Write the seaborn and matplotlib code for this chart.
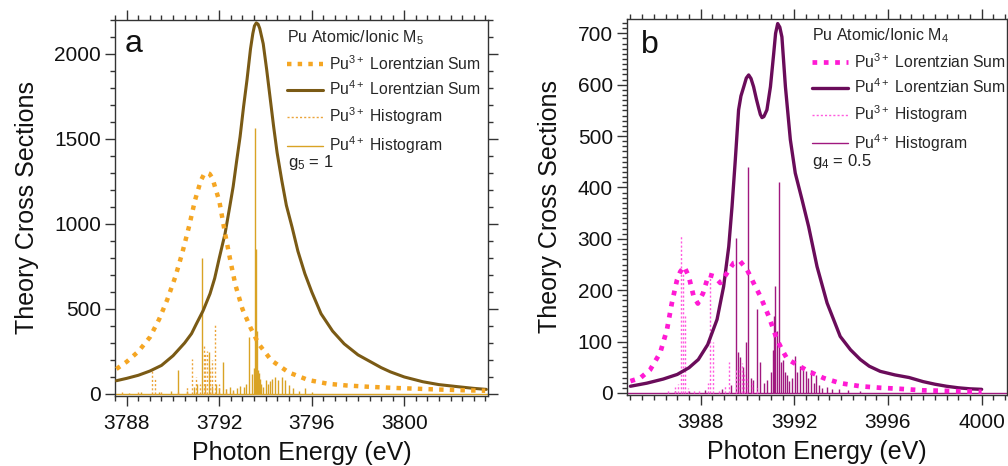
import matplotlib
matplotlib.use("Agg")
import matplotlib.pyplot as plt
import numpy as np
import pandas as pd
import seaborn as sns
from matplotlib.lines import Line2D
from matplotlib.ticker import MultipleLocator

# ---------------- data: panel a (M5) ----------------
a_e3 = [3787.55, 3788.0, 3788.5, 3789.0, 3789.4, 3789.75, 3790.1, 3790.4, 3790.7, 3790.95,
        3791.2, 3791.33, 3791.45, 3791.58, 3791.7, 3792.0, 3792.25, 3792.5, 3792.7, 3793.0,
        3793.35, 3793.7, 3794.25, 3795.0, 3795.85, 3796.7, 3797.5, 3798.5, 3799.5, 3800.5,
        3801.5, 3802.5, 3803.5]
a_v3 = [147, 190, 250, 334, 440, 555, 690, 830, 990, 1140,
        1255, 1290, 1302, 1295, 1270, 1135, 944, 770, 640, 500,
        390, 295, 198, 127, 82, 60, 50, 42, 36, 31,
        26, 22, 19]

a_e4 = [3787.55, 3788.0, 3788.5, 3789.0, 3789.5, 3790.0, 3790.5, 3790.8, 3791.0, 3791.3,
        3791.6, 3791.8, 3792.0, 3792.25, 3792.45, 3792.6, 3792.75, 3792.9, 3793.05, 3793.2,
        3793.35, 3793.45, 3793.52, 3793.6, 3793.68, 3793.75, 3793.9, 3794.05, 3794.2, 3794.35,
        3794.5, 3794.7, 3794.9, 3795.15, 3795.4, 3795.7, 3796.0, 3796.4, 3796.9, 3797.4,
        3798.0, 3798.4, 3799.0, 3799.4, 3800.0, 3800.8, 3801.5, 3802.3, 3803.0, 3803.55]
a_v4 = [78, 92, 110, 135, 168, 225, 300, 355, 410, 490,
        590, 680, 800, 944, 1100, 1220, 1370, 1514, 1690, 1850,
        2030, 2120, 2165, 2183, 2175, 2150, 2060, 1907, 1740, 1573,
        1420, 1258, 1110, 980, 840, 708, 600, 472, 370, 295,
        230, 200, 155, 130, 100, 72, 55, 43, 33, 27]

a_h3_e = [3787.8, 3788.5, 3789.11, 3789.22, 3789.5, 3790.2, 3790.6, 3790.84, 3791.0, 3791.15,
          3791.32, 3791.4, 3791.48, 3791.6, 3791.7, 3791.82, 3792.0, 3792.3, 3792.6]
a_h3_v = [10, 12, 137, 88, 15, 25, 40, 208, 100, 60,
          295, 240, 250, 150, 200, 413, 60, 30, 15]

a_h4_e = [3788.1, 3788.6, 3789.4, 3789.9, 3790.23, 3790.6, 3790.9, 3791.05, 3791.27, 3791.4,
          3791.57, 3791.7, 3791.85, 3792.0, 3792.15, 3792.3, 3792.45, 3792.6, 3792.75, 3792.9,
          3793.05, 3793.15, 3793.3, 3793.42, 3793.5, 3793.55, 3793.58, 3793.62, 3793.66, 3793.7,
          3793.75, 3793.82, 3793.9, 3794.0, 3794.1, 3794.2, 3794.27, 3794.4, 3794.55, 3794.7,
          3794.85, 3795.0, 3795.2, 3795.45, 3795.7, 3796.0]
a_h4_v = [8, 10, 12, 15, 143, 20, 40, 60, 800, 55,
          249, 45, 60, 35, 190, 30, 40, 25, 35, 45,
          40, 60, 335, 120, 150, 1563, 850, 373, 140, 125,
          90, 60, 40, 80, 60, 75, 90, 102, 82, 102,
          82, 53, 33, 20, 33, 10]

# ---------------- data: panel b (M4) ----------------
b_e3 = [3985.0, 3985.42, 3985.84, 3986.27, 3986.56, 3986.77, 3986.99, 3987.13, 3987.3, 3987.49,
        3987.7, 3987.88, 3988.1, 3988.34, 3988.58, 3988.84, 3989.12, 3989.41, 3989.69, 3989.98,
        3990.26, 3990.55, 3990.91, 3991.26, 3991.5, 3991.7, 3992.11, 3992.61, 3993.25, 3993.96,
        3994.82, 3995.67, 3996.5, 3997.5, 3998.5, 4000.0]
b_v3 = [23, 29, 45, 78, 123, 175, 220, 236, 246, 227,
        188, 174, 194, 230, 227, 214, 233, 253, 256, 240,
        214, 188, 149, 104, 82, 66, 55, 42, 29, 19,
        13, 10, 8, 5, 4, 2]

b_e4 = [3985.0, 3985.7, 3986.4, 3987.0, 3987.5, 3987.9, 3988.3, 3988.7, 3988.98, 3989.2,
        3989.34, 3989.48, 3989.62, 3989.72, 3989.84, 3989.95, 3990.05, 3990.15, 3990.26, 3990.38,
        3990.48, 3990.55, 3990.62, 3990.7, 3990.83, 3990.98, 3991.12, 3991.2, 3991.29, 3991.38,
        3991.47, 3991.62, 3991.83, 3992.04, 3992.33, 3992.61, 3992.97, 3993.4, 3993.96, 3994.4,
        3994.82, 3995.2, 3995.67, 3996.3, 3996.9, 3997.5, 3998.0, 3998.5, 3999.0, 3999.5,
        4000.0]
b_v4 = [13, 19, 27, 36, 49, 65, 94, 143, 207, 285,
        363, 454, 551, 578, 596, 613, 619, 612, 596, 572,
        554, 542, 536, 538, 551, 596, 661, 700, 719, 712,
        693, 596, 493, 428, 376, 324, 246, 175, 110, 84,
        65, 52, 42, 35, 30, 22, 17, 13, 10, 8,
        7]

b_h3_e = [3986.6, 3986.9, 3987.05, 3987.17, 3987.25, 3987.35, 3987.47, 3987.7, 3987.95, 3988.3,
          3988.4, 3988.54, 3988.8, 3989.05, 3989.22, 3989.5, 3989.65, 3989.75, 3989.85, 3990.0,
          3990.2, 3990.4]
b_h3_v = [5, 12, 18, 308, 234, 150, 10, 8, 5, 20,
          233, 100, 8, 15, 61, 45, 50, 59, 40, 30,
          20, 10]

b_h4_e = [3986.9, 3987.5, 3988.2, 3988.9, 3989.3, 3989.49, 3989.6, 3989.7, 3989.8, 3989.95,
          3990.03, 3990.15, 3990.25, 3990.42, 3990.55, 3990.7, 3990.85, 3991.0, 3991.1, 3991.14,
          3991.18, 3991.25, 3991.34, 3991.45, 3991.53, 3991.62, 3991.7, 3991.79, 3991.9, 3992.05,
          3992.12, 3992.24, 3992.36, 3992.49, 3992.6, 3992.7, 3992.82, 3992.92, 3993.05, 3993.17,
          3993.4, 3993.6, 3993.92, 3994.3, 3994.8]
b_h4_v = [3, 4, 5, 8, 15, 301, 80, 70, 50, 100,
          440, 30, 25, 163, 60, 20, 25, 40, 84, 150,
          209, 120, 410, 60, 65, 40, 35, 23, 30, 71,
          40, 52, 45, 43, 30, 45, 20, 35, 15, 10,
          12, 8, 8, 5, 4]

labels = ["Pu$^{3+}$ Lorentzian Sum", "Pu$^{4+}$ Lorentzian Sum",
          "Pu$^{3+}$ Histogram", "Pu$^{4+}$ Histogram"]

# ---------------- style ----------------
sns.set_theme(style="ticks")
plt.rcParams["font.family"] = ["Liberation Sans", "DejaVu Sans"]
plt.rcParams["mathtext.fontset"] = "custom"
plt.rcParams["mathtext.rm"] = "Liberation Sans"
plt.rcParams["mathtext.it"] = "Liberation Sans:italic"
plt.rcParams["mathtext.bf"] = "Liberation Sans:bold"
plt.rcParams["mathtext.sf"] = "Liberation Sans"
plt.rcParams["lines.dash_capstyle"] = "butt"

fig = plt.figure(figsize=(10.08, 4.66), dpi=100)
ax_a = fig.add_axes([0.1141, 0.1502, 0.3700, 0.8069])
ax_b = fig.add_axes([0.6217, 0.1524, 0.3770, 0.8069])

DOT = (0, (1, 1.4))
HDOT = (0, (1.5, 1.5))


def draw_panel(ax, e3, v3, e4, v4, h3e, h3v, h4e, h4v, c3, c4, ch3, ch4,
               lw3, lw4, xlim):
    # histogram baseline + sticks
    ax.plot(list(xlim), [0, 0], color=ch4, lw=1.0, zorder=1)
    ax.vlines(h4e, 0, h4v, colors=ch4, lw=1.0, zorder=2)
    ax.vlines(h3e, 0, h3v, colors=ch3, lw=1.0, linestyles=HDOT, zorder=2)
    # Lorentzian sums
    sns.lineplot(x=e4, y=v4, ax=ax, color=c4, lw=lw4, estimator=None, zorder=4)
    sns.lineplot(x=e3, y=v3, ax=ax, color=c3, lw=lw3, linestyle=DOT,
                 estimator=None, zorder=5)
    handles = [Line2D([], [], color=c3, lw=lw3, linestyle=DOT),
               Line2D([], [], color=c4, lw=lw4),
               Line2D([], [], color=ch3, lw=1.0, linestyle=HDOT),
               Line2D([], [], color=ch4, lw=1.0)]
    return handles


def style_axes(ax, xlim, ylim, xmaj, xmin, ymaj, ymin, right=True):
    ax.set_xlim(*xlim)
    ax.set_ylim(*ylim)
    ax.xaxis.set_major_locator(MultipleLocator(xmaj))
    ax.xaxis.set_minor_locator(MultipleLocator(xmin))
    ax.yaxis.set_major_locator(MultipleLocator(ymaj))
    ax.yaxis.set_minor_locator(MultipleLocator(ymin))
    ax.tick_params(which="both", direction="out", top=True, right=right,
                   labeltop=False, labelright=False, color="#333333", width=1.0)
    ax.tick_params(which="major", length=7, labelsize=15, pad=3, labelcolor="#111111")
    ax.tick_params(axis="x", which="major", pad=6)
    ax.tick_params(which="minor", length=3.5)
    for s in ax.spines.values():
        s.set_color("#333333")
        s.set_linewidth(1.0)
    ax.set_xlabel("Photon Energy (eV)", fontsize=18, color="#111111", labelpad=6)
    ax.set_ylabel("Theory Cross Sections", fontsize=18, color="#111111", labelpad=11)


leg_kw = dict(loc="upper left", frameon=False, fontsize=11.3, title_fontsize=11.5,
              alignment="left", handlelength=2.3, handletextpad=0.4,
              labelspacing=0.45, borderpad=0, borderaxespad=0)

# panel a
xa = (3787.49, 3803.62)
ha = draw_panel(ax_a, a_e3, a_v3, a_e4, a_v4, a_h3_e, a_h3_v, a_h4_e, a_h4_v,
                "#F5A623", "#7A5A15", "#EBA43A", "#D9A324", 3.2, 2.2, xa)
style_axes(ax_a, xa, (-12, 2200), 4, 0.5, 500, 100, right=True)
ax_a.text(0.027, 0.916, "a", transform=ax_a.transAxes, fontsize=23, va="baseline",
          color="#111111")
ax_a.legend(ha, labels, bbox_to_anchor=(0.46, 0.978),
            title="Pu Atomic/Ionic M$_5$", **leg_kw)
ax_a.text(0.4646, 0.608, "g$_5$ = 1", transform=ax_a.transAxes, fontsize=12,
          va="baseline", color="#222222")

# panel b
xb = (3984.84, 4001.07)
hb = draw_panel(ax_b, b_e3, b_v3, b_e4, b_v4, b_h3_e, b_h3_v, b_h4_e, b_h4_v,
                "#FF1AD4", "#6A0C5A", "#FF5ADF", "#A0187F", 3.4, 2.4, xb)
style_axes(ax_b, xb, (-4, 728), 4, 0.5, 100, 10, right=False)
ax_b.text(0.038, 0.9096, "b", transform=ax_b.transAxes, fontsize=23, va="baseline",
          color="#111111")
ax_b.legend(hb, labels, bbox_to_anchor=(0.487, 0.981),
            title="Pu Atomic/Ionic M$_4$", **leg_kw)
ax_b.text(0.487, 0.610, "g$_4$ = 0.5", transform=ax_b.transAxes, fontsize=12,
          va="baseline", color="#222222")

fig.savefig("out.png", dpi=100)
